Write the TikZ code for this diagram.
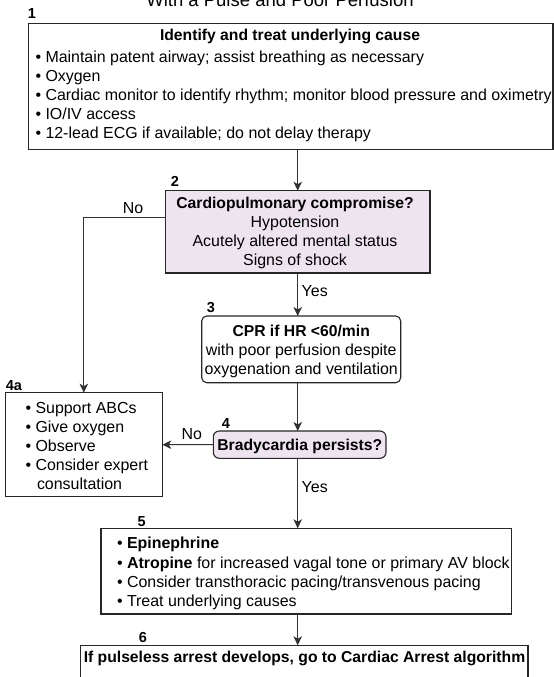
\documentclass[tikz,border=0pt]{standalone}
\usepackage{fontspec}
\setmainfont{Liberation Sans}
\usetikzlibrary{arrows.meta}
\definecolor{qfill}{RGB}{238,228,239}
\definecolor{edge}{RGB}{50,50,50}

\begin{document}
\begin{tikzpicture}[x=1bp,y=-1bp,
  every node/.style={inner sep=0pt, outer sep=0pt},
  frame/.style={draw=black!85, line width=1.1bp, rectangle},
  ask/.style={frame, fill=qfill},
  soft/.style={rounded corners=5bp},
  txt/.style={font=\fontsize{15.95bp}{19bp}\selectfont, anchor=base},
  txtl/.style={txt, anchor=base west},
  bold/.style={font=\fontsize{15.7bp}{19bp}\selectfont\bfseries, anchor=base},
  tag/.style={font=\fontsize{14.5bp}{17bp}\selectfont\bfseries, anchor=base},
  link/.style={draw=edge, line width=1.1bp, -{Stealth[length=9bp,width=8.5bp,inset=2.5bp]}},
]
\clip (0,0) rectangle (554,677);

% heading (upper half falls outside the page)
\node[font=\fontsize{18.5bp}{22bp}\selectfont, anchor=base] (title) at (280,7) {With a Pulse and Poor Perfusion};

% ---- boxes ----
\node[frame, minimum width=524.3bp, minimum height=126bp] (b1) at (290.85,86.3) {};
\node[ask, minimum width=264.3bp, minimum height=82.3bp] (b2) at (297.85,231.85) {};
\node[frame, soft, minimum width=199bp, minimum height=66.7bp] (b3) at (301.2,349.35) {};
\node[ask, rounded corners=6bp, minimum width=172.7bp, minimum height=27.3bp] (b4) at (299.65,444.65) {};
\node[frame, minimum width=157bp, minimum height=104bp] (b4a) at (83.8,444.7) {};
\node[frame, minimum width=410.7bp, minimum height=85.7bp] (b5) at (306.35,571.15) {};
\node[frame, minimum width=447.3bp, minimum height=50bp] (b6) at (304.35,670.3) {};

% ---- step numbers ----
\node[tag] (n1) at (32,18.5) {1};
\node[tag] (n2) at (175,186.5) {2};
\node[tag] (n3) at (211,312) {3};
\node[tag] (n4) at (226,428.5) {4};
\node[tag] (n4a) at (14,390.5) {4a};
\node[tag] (n5) at (141.7,526) {5};
\node[tag] (n6) at (143,642.5) {6};

% ---- box 1 ----
\node[bold] (t1) at (290,40.5) {Identify and treat underlying cause};
\node[txtl] (t1a) at (35.5,62.5) {• Maintain patent airway; assist breathing as necessary};
\node[txtl] (t1b) at (35.5,81.5) {• Oxygen};
\node[txtl] (t1c) at (35.5,100.5) {• Cardiac monitor to identify rhythm; monitor blood pressure and oximetry};
\node[txtl] (t1d) at (35.5,119.5) {• IO/IV access};
\node[txtl] (t1e) at (35.5,138.5) {• 12-lead ECG if available; do not delay therapy};

% ---- box 2 ----
\node[bold] (t2) at (295,208.6) {Cardiopulmonary compromise?};
\node[txt] (t2a) at (295,227.4) {Hypotension};
\node[txt] (t2b) at (295,246.2) {Acutely altered mental status};
\node[txt] (t2c) at (295,265) {Signs of shock};

% ---- box 3 ----
\node[bold] (t3) at (301.2,336.2) {CPR if HR <60/min};
\node[txt] (t3a) at (301.2,355.4) {with poor perfusion despite};
\node[txt] (t3b) at (301.2,374.5) {oxygenation and ventilation};

% ---- box 4 ----
\node[bold] (t4) at (299.8,450.2) {Bradycardia persists?};

% ---- box 4a ----
\node[txtl] (t4a1) at (25.5,413.8) {• Support ABCs};
\node[txtl] (t4a2) at (25.5,432.8) {• Give oxygen};
\node[txtl] (t4a3) at (25.5,451.6) {• Observe};
\node[txtl] (t4a4) at (25.5,470.5) {• Consider expert};
\node[txtl] (t4a5) at (37,489.6) {consultation};

% ---- box 5 ----
\node[txtl] (t5a) at (117,548.8) {• \textbf{Epinephrine}};
\node[txtl] (t5b) at (117,568) {• \textbf{Atropine} for increased vagal tone or primary AV block};
\node[txtl] (t5c) at (117,587.2) {• Consider transthoracic pacing/transvenous pacing};
\node[txtl] (t5d) at (117,606.4) {• Treat underlying causes};

% ---- box 6 ----
\node[bold] (t6) at (304.5,662.2) {If pulseless arrest develops, go to Cardiac Arrest algorithm};

% ---- connectors ----
\coordinate (spine) at (297.7,0);
\coordinate (bend) at (83.8,217.7);
\draw[link] (b1.south -| spine) -- (b2.north -| spine);
\draw[link] (b2.south -| spine) -- (b3.north -| spine);
\draw[link] (b3.south -| spine) -- (b4.north -| spine);
\draw[link] (b4.south -| spine) -- (b5.north -| spine);
\draw[link] (b5.south -| spine) -- (b6.north -| spine);
\draw[link] (b2.west |- bend) -- (bend) -- (b4a.north);
\draw[link] (b4.west) -- (b4a.east);

% ---- connector labels ----
\node[txt] (no1) at (133,213.6) {No};
\node[txt] (yes1) at (314.7,296.2) {Yes};
\node[txt] (no2) at (191.7,439.5) {No};
\node[txt] (yes2) at (314.7,492.6) {Yes};
\end{tikzpicture}
\end{document}
